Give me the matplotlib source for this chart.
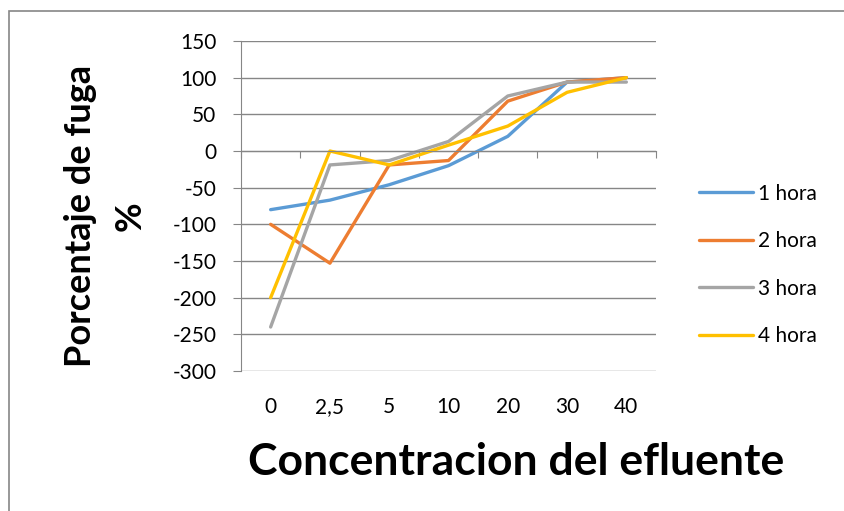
import matplotlib.pyplot as plt
from matplotlib.patches import Rectangle
import matplotlib.transforms as mtransforms

plt.rcParams['font.family'] = ['Lato', 'DejaVu Sans']

# data
categories = ["0", "2,5", "5", "10", "20", "30", "40"]
hora_1 = [-80, -67, -46, -20, 20, 94, 100]
hora_2 = [-100, -153, -19, -13, 68, 94, 100]
hora_3 = [-240, -19, -13, 13, 75, 94, 94]
hora_4 = [-200, 0, -19, 8, 34, 80, 100]
series_names = ["1 hora", "2 hora", "3 hora", "4 hora"]
colors = ["#5B9BD5", "#ED7D31", "#A5A5A5", "#FFC000"]

fig = plt.figure(figsize=(8.44, 5.11), dpi=100)
ax = fig.add_axes([241/844, 1 - 371/511, (656-241)/844, (371-41)/511])

xs = list(range(len(categories)))
for vals, name, c in zip([hora_1, hora_2, hora_3, hora_4], series_names, colors):
    ax.plot(xs, vals, color=c, lw=2.4, label=name, solid_capstyle='round')

ax.set_xlim(-0.5, len(categories) - 0.5)
ax.set_ylim(-300, 150)
ax.set_yticks(range(-300, 151, 50))
ax.set_yticklabels([str(v) for v in range(-300, 151, 50)])
ax.tick_params(axis='y', labelsize=15, length=5.8, color='#868686', pad=12)
ax.yaxis.grid(True, color='#868686', lw=1)
ax.set_axisbelow(True)

# category axis crosses at zero, tick marks between categories
ax.spines['bottom'].set_position(('data', 0))
ax.spines['bottom'].set_color('#868686')
ax.spines['left'].set_color('#868686')
ax.spines['top'].set_visible(False)
ax.spines['right'].set_visible(False)
ax.set_xticks([i - 0.5 for i in range(len(categories) + 1)])
ax.set_xticklabels([])
ax.tick_params(axis='x', length=5, color='#868686')

trans = mtransforms.blended_transform_factory(ax.transData, ax.transAxes)
for i, lab in enumerate(categories):
    ax.text(i, -0.08, lab, transform=trans, ha='center', va='top', fontsize=15)

fig.text(0.611, 1 - 462/511, "Concentracion del efluente", ha='center', va='center',
         fontsize=32, fontweight='bold')
fig.text(0.125, 1 - 216/511, "Porcentaje de fuga\n%", ha='center', va='center',
         fontsize=26, fontweight='bold', rotation=90, linespacing=1.6)

ax.legend(loc='center left', bbox_to_anchor=(680/844, 1 - 265/511),
          bbox_transform=fig.transFigure, frameon=False, fontsize=15,
          handlelength=2.6, labelspacing=1.32, handletextpad=0.25)

fig.patches.append(Rectangle((9/844, -0.1), 1.0, 1.1 - 11.5/511, transform=fig.transFigure,
                             fill=False, edgecolor='#868686', lw=1.2))

fig.savefig("out.png", dpi=100)
plt.close()
